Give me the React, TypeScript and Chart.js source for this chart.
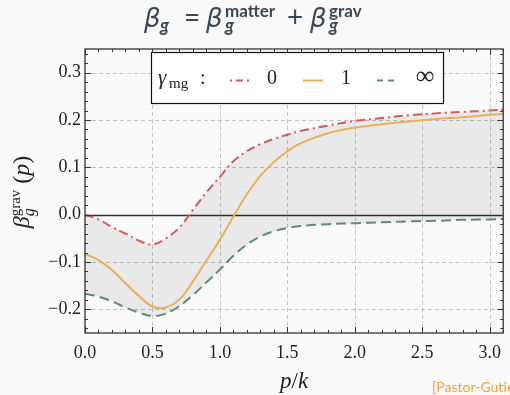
import React, { useEffect, useRef } from "react";
import { Chart, registerables } from "chart.js";

Chart.register(...registerables);

// ---- data ----
const pValues = [0, 0.1, 0.2, 0.3, 0.4, 0.5, 0.6, 0.7, 0.8, 0.9, 1.0, 1.1, 1.2, 1.3, 1.4, 1.5, 1.6, 1.8, 2.0, 2.2, 2.4, 2.6, 2.8, 3.0, 3.1];
const gamma0 = [0.0, -0.01, -0.026, -0.04, -0.055, -0.063, -0.05, -0.027, 0.01, 0.047, 0.08, 0.113, 0.134, 0.149, 0.16, 0.169, 0.177, 0.188, 0.198, 0.204, 0.21, 0.214, 0.217, 0.22, 0.222];
const gamma1 = [-0.083, -0.096, -0.117, -0.145, -0.172, -0.194, -0.196, -0.179, -0.141, -0.097, -0.053, -0.004, 0.043, 0.082, 0.111, 0.134, 0.151, 0.172, 0.184, 0.191, 0.197, 0.202, 0.206, 0.211, 0.213];
const gammaInf = [-0.167, -0.173, -0.183, -0.196, -0.207, -0.214, -0.209, -0.193, -0.17, -0.143, -0.116, -0.087, -0.063, -0.046, -0.035, -0.028, -0.024, -0.02, -0.018, -0.016, -0.014, -0.013, -0.011, -0.01, -0.009];
const seriesLabels = ["0", "1", "∞"];
const xTicks = [0, 0.5, 1.0, 1.5, 2.0, 2.5, 3.0];
const yTicks = [-0.2, -0.1, 0.0, 0.1, 0.2, 0.3];
const xRange = [0, 3.1];
const yRange = [-0.25, 0.35];
const xMinorStep = 0.1;
const yMinorStep = 0.02;

const COLORS = ["#cd5c5c", "#e8b05e", "#5f8b6e"];
const DASHES: number[][] = [[9, 4, 2, 4], [], [10, 5]];
const LEGEND_DASHES: number[][] = [[2, 4, 7, 4], [], [6, 5]];
const BG = "#fafafa";
const INK = "#222";

const fmt = (v: number) => (v < -1e-9 ? "\u2212" : "") + Math.abs(v).toFixed(1);

type Piece =
  | { t: string; f: string; dy?: number }
  | { sup: string; sub: string; fs: string; fb: string; dsup: number; dsub: number };

function pieceWidth(ctx: CanvasRenderingContext2D, p: Piece) {
  if ("t" in p) {
    ctx.font = p.f;
    return ctx.measureText(p.t).width;
  }
  ctx.font = p.fs;
  const a = ctx.measureText(p.sup).width;
  ctx.font = p.fb;
  const b = ctx.measureText(p.sub).width;
  return Math.max(a, b);
}

function drawPiece(ctx: CanvasRenderingContext2D, p: Piece, x: number, baseY: number) {
  if ("t" in p) {
    ctx.font = p.f;
    ctx.fillText(p.t, x, baseY + (p.dy || 0));
  } else {
    ctx.font = p.fs;
    ctx.fillText(p.sup, x, baseY + p.dsup);
    ctx.font = p.fb;
    ctx.fillText(p.sub, x, baseY + p.dsub);
  }
}

function drawPieces(ctx: CanvasRenderingContext2D, pieces: Piece[], cx: number, baseY: number, color: string) {
  const widths = pieces.map((p) => pieceWidth(ctx, p));
  const total = widths.reduce((s, w) => s + w, 0);
  let x = cx - total / 2;
  ctx.fillStyle = color;
  ctx.textBaseline = "alphabetic";
  ctx.textAlign = "left";
  pieces.forEach((p, i) => {
    drawPiece(ctx, p, x, baseY);
    x += widths[i];
  });
}

const decorPlugin = {
  id: "decor",
  beforeDatasetsDraw(chart: any) {
    const { ctx, chartArea: a, scales } = chart;
    const xs = scales.x;
    const ys = scales.y;
    ctx.save();
    ctx.strokeStyle = "#c4c4c4";
    ctx.lineWidth = 1;
    ctx.setLineDash([4, 3]);
    xTicks.forEach((v) => {
      if (v === xRange[0]) return;
      const px = Math.round(xs.getPixelForValue(v)) + 0.5;
      ctx.beginPath();
      ctx.moveTo(px, a.top);
      ctx.lineTo(px, a.bottom);
      ctx.stroke();
    });
    yTicks.forEach((v) => {
      if (Math.abs(v) < 1e-9) return;
      const py = Math.round(ys.getPixelForValue(v)) + 0.5;
      ctx.beginPath();
      ctx.moveTo(a.left, py);
      ctx.lineTo(a.right, py);
      ctx.stroke();
    });
    ctx.setLineDash([]);
    ctx.strokeStyle = "#333";
    ctx.lineWidth = 1.3;
    const zy = Math.round(ys.getPixelForValue(0)) + 0.5;
    ctx.beginPath();
    ctx.moveTo(a.left, zy);
    ctx.lineTo(a.right, zy);
    ctx.stroke();
    ctx.restore();
  },
  afterDraw(chart: any) {
    const { ctx, chartArea: a, scales } = chart;
    const xs = scales.x;
    const ys = scales.y;
    ctx.save();
    // frame
    ctx.strokeStyle = "#333";
    ctx.lineWidth = 1.3;
    ctx.strokeRect(a.left, a.top, a.right - a.left, a.bottom - a.top);
    // ticks on all sides
    ctx.lineWidth = 1;
    const isMajor = (v: number, list: number[]) => list.some((t) => Math.abs(t - v) < 1e-6);
    for (let i = 0; ; i++) {
      const v = xRange[0] + i * xMinorStep;
      if (v > xRange[1] + 1e-9) break;
      const len = isMajor(v, xTicks) ? 6 : 3;
      const px = Math.round(xs.getPixelForValue(v)) + 0.5;
      ctx.beginPath();
      ctx.moveTo(px, a.bottom);
      ctx.lineTo(px, a.bottom - len);
      ctx.moveTo(px, a.top);
      ctx.lineTo(px, a.top + len);
      ctx.stroke();
    }
    for (let i = 0; ; i++) {
      const v = -0.24 + i * yMinorStep;
      if (v > yRange[1] + 1e-9) break;
      const len = isMajor(v, yTicks) ? 6 : 3;
      const py = Math.round(ys.getPixelForValue(v)) + 0.5;
      ctx.beginPath();
      ctx.moveTo(a.left, py);
      ctx.lineTo(a.left + len, py);
      ctx.moveTo(a.right, py);
      ctx.lineTo(a.right - len, py);
      ctx.stroke();
    }

    // legend box
    const lx = 151, ly = 52, lw = 292, lh = 51;
    ctx.fillStyle = "#ffffff";
    ctx.fillRect(lx, ly, lw, lh);
    ctx.strokeStyle = "#111";
    ctx.lineWidth = 1.2;
    ctx.strokeRect(lx + 0.5, ly + 0.5, lw, lh);
    ctx.fillStyle = INK;
    ctx.textBaseline = "alphabetic";
    ctx.textAlign = "left";
    ctx.font = "italic 21px 'Liberation Serif'";
    ctx.fillText("\u03b3", 158, 84);
    ctx.font = "15px 'Liberation Serif'";
    ctx.fillText("mg", 169, 88);
    ctx.font = "20px 'Liberation Serif'";
    ctx.fillText(":", 200, 84);
    const sampleX = [230, 303, 377];
    const labelCX = [272, 346, 425];
    chart.data.datasets.forEach((ds: any, i: number) => {
      ctx.strokeStyle = ds.borderColor;
      ctx.lineWidth = 2;
      ctx.setLineDash(LEGEND_DASHES[i]);
      ctx.beginPath();
      ctx.moveTo(sampleX[i], 80.5);
      ctx.lineTo(sampleX[i] + 20, 80.5);
      ctx.stroke();
      ctx.setLineDash([]);
      ctx.fillStyle = INK;
      ctx.textAlign = "center";
      ctx.font = i === 2 ? "26px 'Liberation Serif'" : "20px 'Liberation Serif'";
      ctx.fillText(ds.label, labelCX[i], 84);
      ctx.textAlign = "left";
    });

    // title (pieces anchored at their positions)
    const big = "28px Lato";
    const bigI = "italic 26px 'DejaVu Sans'";
    const supF = "bold 17px Lato";
    const subF = "italic bold 18px Lato";
    const titleBase = 27;
    ctx.fillStyle = "#3b4753";
    ctx.textAlign = "left";
    const titleParts: [number, Piece][] = [
      [144, { t: "\u03b2", f: bigI }],
      [160, { t: "g", f: subF, dy: 5 }],
      [184, { t: "=", f: big }],
      [206, { t: "\u03b2", f: bigI }],
      [225, { sup: "matter", sub: "g", fs: supF, fb: subF, dsup: -10, dsub: 5 }],
      [287, { t: "+", f: big }],
      [310, { t: "\u03b2", f: bigI }],
      [329, { sup: "grav", sub: "g", fs: supF, fb: subF, dsup: -10, dsub: 5 }],
    ];
    titleParts.forEach(([x, p]) => drawPiece(ctx, p, x, titleBase));

    // y axis label (rotated)
    ctx.save();
    ctx.translate(29, 192);
    ctx.rotate(-Math.PI / 2);
    drawPieces(
      ctx,
      [
        { t: "\u03b2", f: "italic 24px 'Liberation Serif'" },
        { sup: "grav", sub: "g", fs: "15px 'Liberation Serif'", fb: "italic 16px 'Liberation Serif'", dsup: -9, dsub: 5 },
        { t: " (", f: "24px 'Liberation Serif'" },
        { t: "p", f: "italic 24px 'Liberation Serif'" },
        { t: ")", f: "24px 'Liberation Serif'" },
      ],
      0,
      0,
      INK
    );
    ctx.restore();

    // x axis label
    drawPieces(
      ctx,
      [
        { t: "p", f: "italic 23px 'Liberation Serif'" },
        { t: "/", f: "23px 'Liberation Serif'" },
        { t: "k", f: "italic 23px 'Liberation Serif'" },
      ],
      (a.left + a.right) / 2,
      388,
      INK
    );

    // citation
    ctx.font = "14px Lato";
    ctx.fillStyle = "#f7a03c";
    ctx.textAlign = "left";
    ctx.fillText("[Pastor-Gutiérrez et al.]", 432, 392);
    ctx.restore();
  },
};

export default function App() {
  const ref = useRef<HTMLCanvasElement | null>(null);
  useEffect(() => {
    if (!ref.current) return;
    const series = [gamma0, gamma1, gammaInf];
    const chart = new Chart(ref.current, {
      type: "line",
      data: {
        datasets: series.map((arr, i) => ({
          label: seriesLabels[i],
          data: pValues.map((p, j) => ({ x: p, y: arr[j] })),
          borderColor: COLORS[i],
          borderWidth: 2,
          borderDash: DASHES[i],
          pointRadius: 0,
          tension: 0.4,
          fill: i === 2 ? { target: 0 } : false,
          backgroundColor: i === 2 ? "rgba(0,0,0,0.065)" : "transparent",
        })),
      },
      options: {
        animation: false,
        responsive: false,
        devicePixelRatio: 1,
        layout: { padding: { top: 49, right: 1, left: 0, bottom: 0 } },
        plugins: {
          legend: { display: false },
          title: { display: false },
          tooltip: { enabled: false },
        },
        scales: {
          x: {
            type: "linear",
            min: xRange[0],
            max: xRange[1],
            grid: { display: false, drawTicks: false },
            border: { display: false },
            afterBuildTicks: (s: any) => {
              s.ticks = xTicks.map((v) => ({ value: v }));
            },
            afterFit: (s: any) => {
              s.height = 62;
            },
            ticks: {
              font: { family: "'Liberation Serif'", size: 18 },
              color: INK,
              padding: 9,
              maxRotation: 0,
              autoSkip: false,
              callback: (v: any) => fmt(Number(v)),
            },
          },
          y: {
            type: "linear",
            min: yRange[0],
            max: yRange[1],
            grid: { display: false, drawTicks: false },
            border: { display: false },
            afterBuildTicks: (s: any) => {
              s.ticks = yTicks.map((v) => ({ value: v }));
            },
            afterFit: (s: any) => {
              s.width = 85;
            },
            ticks: {
              font: { family: "'Liberation Serif'", size: 18 },
              color: INK,
              padding: 4,
              autoSkip: false,
              callback: (v: any) => fmt(Number(v)),
            },
          },
        },
      },
      plugins: [decorPlugin],
    });
    return () => chart.destroy();
  }, []);
  return (
    <div style={{ position: "fixed", left: 0, top: 0, width: 510, height: 395, background: BG }}>
      <canvas ref={ref} width={510} height={395} style={{ width: 510, height: 395, display: "block" }} />
    </div>
  );
}
